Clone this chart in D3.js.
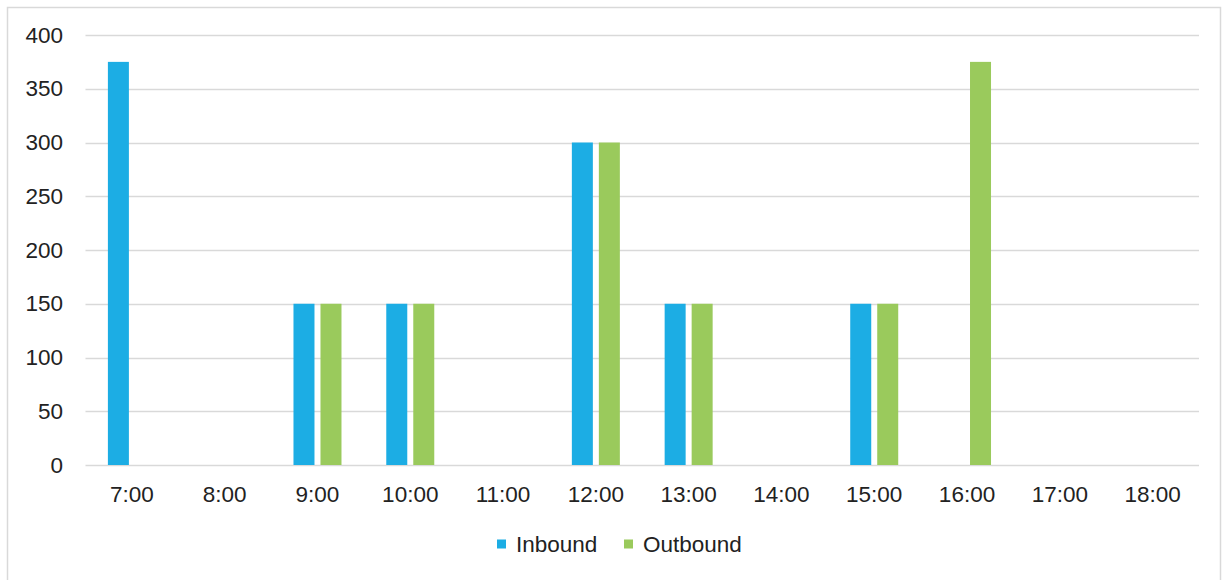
<!DOCTYPE html>
<html>
<head>
<meta charset="utf-8">
<script src="https://cdn.jsdelivr.net/npm/d3@7"></script>
<style>
  html, body { margin: 0; padding: 0; background: #fff; }
  svg { display: block; font-family: "Liberation Sans", Arial, sans-serif; }
</style>
</head>
<body>
<svg id="chart" width="1227" height="580"></svg>
<script>
// Hourly traffic counts
const hours = ["7:00", "8:00", "9:00", "10:00", "11:00", "12:00", "13:00", "14:00", "15:00", "16:00", "17:00", "18:00"];
const inbound = [375, 0, 150, 150, 0, 300, 150, 0, 150, 0, 0, 0];
const outbound = [0, 0, 150, 150, 0, 300, 150, 0, 150, 375, 0, 0];
const seriesNames = ["Inbound", "Outbound"];
const seriesColors = ["#1cade4", "#9aca5c"];
const yTicks = [0, 50, 100, 150, 200, 250, 300, 350, 400];

const svg = d3.select("#chart");
const fontSize = 22.5;
const textColor = "#222";

// outer frame
svg.append("rect")
  .attr("x", 7.5).attr("y", 7.5)
  .attr("width", 1213).attr("height", 580)
  .attr("fill", "#fff")
  .attr("stroke", "#d9d9d9").attr("stroke-width", 1.5);

const plot = { left: 85.5, right: 1199, top: 35, bottom: 465 };

const x = d3.scaleBand().domain(hours).range([plot.left, plot.right]).padding(0);
const y = d3.scaleLinear().domain([0, 400]).range([plot.bottom, plot.top]);

// gridlines
svg.append("g")
  .selectAll("line")
  .data(yTicks)
  .join("line")
  .attr("x1", plot.left).attr("x2", plot.right)
  .attr("y1", d => Math.round(y(d)) + 0.5).attr("y2", d => Math.round(y(d)) + 0.5)
  .attr("stroke", "#d9d9d9").attr("stroke-width", 1.5);

// y axis labels
const yAxis = d3.axisLeft(y).tickValues(yTicks).tickSize(0).tickPadding(0);
const yG = svg.append("g").attr("transform", `translate(63,0)`).call(yAxis);
yG.select(".domain").remove();
yG.selectAll("text")
  .attr("font-size", fontSize).attr("fill", textColor)
  .attr("font-family", "Liberation Sans, Arial, sans-serif");

// x axis labels
const xAxis = d3.axisBottom(x).tickSize(0).tickPadding(0);
const xG = svg.append("g").attr("transform", `translate(0,${plot.bottom})`).call(xAxis);
xG.select(".domain").remove();
xG.selectAll("text")
  .attr("y", 37).attr("dy", 0)
  .attr("font-size", fontSize).attr("fill", textColor)
  .attr("font-family", "Liberation Sans, Arial, sans-serif");

// grouped bars
const barW = 21, gap = 6;
const sub = d3.scaleOrdinal().domain(seriesNames).range([-(barW + gap / 2), gap / 2]);
const data = [inbound, outbound];

seriesNames.forEach((name, si) => {
  svg.append("g")
    .selectAll("rect")
    .data(hours.map((h, i) => ({ h, v: data[si][i] })).filter(d => d.v > 0))
    .join("rect")
    .attr("x", d => x(d.h) + x.bandwidth() / 2 + sub(name))
    .attr("y", d => y(d.v))
    .attr("width", barW)
    .attr("height", d => y(0) - y(d.v))
    .attr("fill", seriesColors[si]);
});

// legend
const legend = svg.append("g").attr("transform", "translate(497,544)");
const legendX = [0, 127];
seriesNames.forEach((name, i) => {
  const g = legend.append("g").attr("transform", `translate(${legendX[i]},0)`);
  g.append("rect").attr("x", 0).attr("y", -4.5).attr("width", 9).attr("height", 9).attr("fill", seriesColors[i]);
  g.append("text").attr("x", 19).attr("y", 0).attr("dy", "0.35em")
    .attr("font-size", fontSize).attr("fill", textColor).text(name);
});
</script>
</body>
</html>
